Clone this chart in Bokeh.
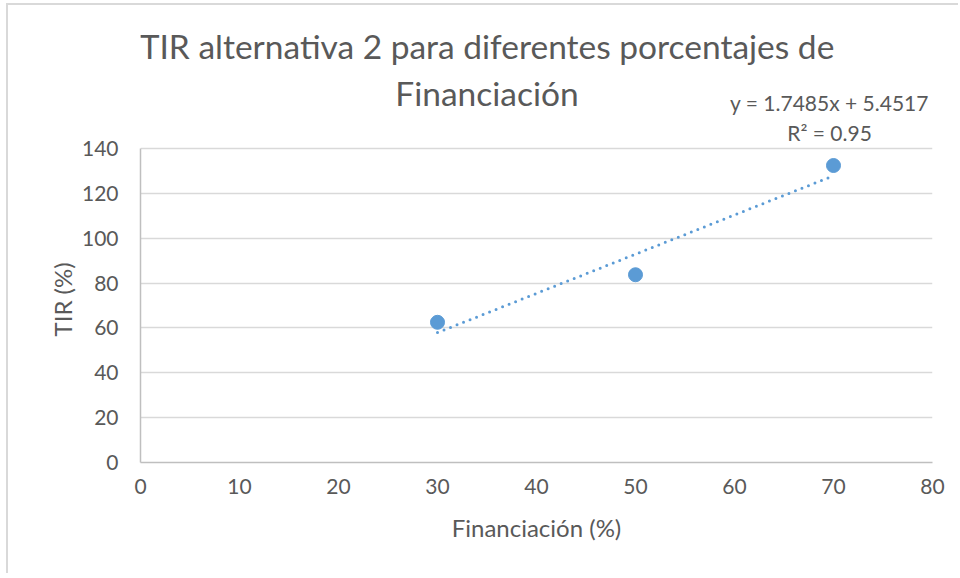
from bokeh.plotting import figure
from bokeh.models import Label, Range1d, FixedTicker, Title
from bokeh.embed import file_html
from bokeh.resources import INLINE

# data
financiacion = [30, 50, 70]
tir = [62.5, 83.7, 132.4]
trend_slope = 1.7485
trend_intercept = 5.4517
r_squared = 0.95
x_ticks = [0, 10, 20, 30, 40, 50, 60, 70, 80]
y_ticks = [0, 20, 40, 60, 80, 100, 120, 140]
title_lines = ["TIR alternativa 2 para diferentes porcentajes de", "Financiación"]
x_title = "Financiación (%)"
y_title = "TIR (%)"

FONT = "Lato"
TXT = "#595959"
BLUE = "#5b9bd5"

# frame extends up over the title area so that the texts there are not clipped;
# the y axis itself is bounded to 0..140
p = figure(width=952, height=570, output_backend="svg", toolbar_location=None,
           x_range=Range1d(0, 80), y_range=Range1d(0, 201.5),
           min_border_left=132, min_border_right=28, min_border_top=5, min_border_bottom=113)
p.outline_line_color = None
p.background_fill_color = "white"
p.border_fill_color = "white"
# chart-area border (top and left edges visible in the reference)
p.styles = {"margin-left": "6px", "margin-top": "3px",
            "border-left": "2px solid #d9d9d9", "border-top": "2px solid #d9d9d9"}

p.xgrid.grid_line_color = None
p.ygrid.grid_line_color = "#d9d9d9"
p.ygrid.grid_line_width = 1.5

p.xaxis.ticker = FixedTicker(ticks=x_ticks)
p.yaxis.ticker = FixedTicker(ticks=y_ticks)
p.yaxis.bounds = (0, 140)
for ax in (p.xaxis[0], p.yaxis[0]):
    ax.axis_line_color = "#bfbfbf"
    ax.axis_line_width = 1.5
    ax.major_tick_line_color = None
    ax.minor_tick_line_color = None
    ax.major_tick_out = 0
    ax.major_tick_in = 0
    ax.major_label_text_font = FONT
    ax.major_label_text_font_size = "21px"
    ax.major_label_text_color = TXT
    ax.axis_label_text_font = FONT
    ax.axis_label_text_font_size = "24px"
    ax.axis_label_text_color = TXT
    ax.axis_label_text_font_style = "normal"

p.xaxis.axis_label = x_title
p.xaxis.major_label_standoff = 16
p.yaxis.major_label_standoff = 22
p.xaxis.axis_label_standoff = 16

# y axis title, centred on the 0..140 part of the axis
p.add_layout(Title(text=y_title, align="left", offset=126, standoff=4,
                   text_font=FONT, text_font_size="24px", text_color=TXT,
                   text_font_style="normal"), "left")

# trendline
tx = [min(financiacion), max(financiacion)]
ty = [trend_slope * x + trend_intercept for x in tx]
p.line(tx, ty, line_color=BLUE, line_width=3, line_dash="0 7", line_cap="round")

p.scatter(financiacion, tir, size=14, fill_color=BLUE, line_color=BLUE)

# chart title
p.add_layout(Label(x=35.0, y=185.8, text=title_lines[0],
                   text_align="center", text_baseline="alphabetic", text_font=FONT,
                   text_font_size="33.5px", text_color=TXT))
p.add_layout(Label(x=35.0, y=164.8, text=title_lines[1],
                   text_align="center", text_baseline="alphabetic", text_font=FONT,
                   text_font_size="33.5px", text_color=TXT))

# trendline equation
p.add_layout(Label(x=69.6, y=160.5, text=f"y = {trend_slope}x + {trend_intercept}",
                   text_align="center", text_baseline="alphabetic", text_font=FONT,
                   text_font_size="21px", text_color=TXT))
p.add_layout(Label(x=69.6, y=147.1, text=f"R² = {r_squared}",
                   text_align="center", text_baseline="alphabetic", text_font=FONT,
                   text_font_size="21px", text_color=TXT))

open("out.html", "w").write(file_html(p, INLINE))
